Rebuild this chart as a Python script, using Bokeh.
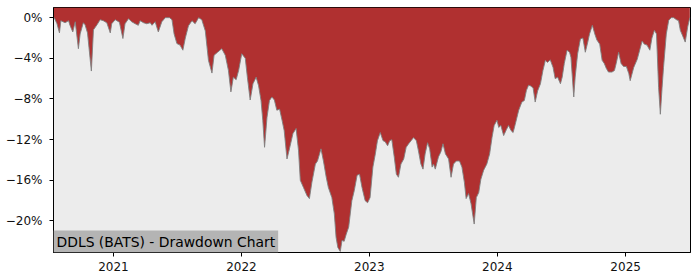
import pandas as pd
from bokeh.plotting import figure
from bokeh.models import (ColumnDataSource, FixedTicker, CustomJSTickFormatter,
                          Label, Range1d)
from bokeh.embed import file_html
from bokeh.resources import INLINE

# ---------------- data (drawdown in percent) ----------------
dates_2020 = ["2020-07-14", "2020-07-16", "2020-07-24", "2020-07-31", "2020-08-04", "2020-08-16",
              "2020-08-26", "2020-08-30", "2020-09-07", "2020-09-14", "2020-09-23", "2020-09-28",
              "2020-10-07", "2020-10-12", "2020-10-19", "2020-10-30", "2020-11-05", "2020-11-15",
              "2020-11-24", "2020-12-03", "2020-12-13", "2020-12-23", "2020-12-27"]
dd_2020 = [0, 0, -0.6, -1.5, -0.3, -0.5,
           -0.3, -0.75, -1.4, -0.4, -3.05, -1.6,
           -0.5, -0.7, -1.5, -5.25, -1.2, -0.7,
           -0.2, -0.3, -0.5, -1.5, -0.6]

dates_2021 = ["2021-01-06", "2021-01-18", "2021-01-28", "2021-02-03", "2021-02-13", "2021-02-22",
              "2021-03-04", "2021-03-13", "2021-03-18", "2021-03-28", "2021-04-06", "2021-04-16",
              "2021-04-21", "2021-04-30", "2021-05-09", "2021-05-19", "2021-05-29", "2021-06-10",
              "2021-06-17", "2021-06-23", "2021-07-01", "2021-07-10", "2021-07-18", "2021-07-25",
              "2021-08-03", "2021-08-13", "2021-08-22", "2021-09-01", "2021-09-10", "2021-09-20",
              "2021-09-29", "2021-10-09", "2021-10-15", "2021-10-25", "2021-11-06", "2021-11-16",
              "2021-11-25", "2021-12-02", "2021-12-09", "2021-12-17", "2021-12-24"]
dd_2021 = [-0.2, -0.45, -2.05, -0.6, -0.1, -0.4,
           -0.6, -0.75, -0.3, -0.5, -0.6, -0.5,
           -0.75, -0.4, -1.4, -0.4, 0, 0,
           -0.2, -1.6, -2.55, -2.7, -3.2, -2.0,
           -0.8, -0.3, -0.6, 0, -0.2, -1.3,
           -4.2, -5.45, -3.7, -3.4, -3.05, -3.7,
           -5.2, -7.3, -5.85, -6.1, -5.2]

dates_2022 = ["2022-01-02", "2022-01-12", "2022-01-18", "2022-01-26", "2022-02-03", "2022-02-12",
              "2022-02-19", "2022-02-26", "2022-03-03", "2022-03-08", "2022-03-15", "2022-03-22",
              "2022-03-29", "2022-04-05", "2022-04-12", "2022-04-20", "2022-04-27", "2022-05-03",
              "2022-05-11", "2022-05-18", "2022-05-28", "2022-06-06", "2022-06-13", "2022-06-18",
              "2022-06-27", "2022-07-07", "2022-07-14", "2022-07-21", "2022-07-31", "2022-08-06",
              "2022-08-16", "2022-08-23", "2022-08-31", "2022-09-06", "2022-09-16", "2022-09-23",
              "2022-09-28", "2022-10-03", "2022-10-10", "2022-10-15", "2022-10-21", "2022-10-27",
              "2022-11-03", "2022-11-12", "2022-11-19", "2022-11-27", "2022-12-04", "2022-12-11",
              "2022-12-20", "2022-12-27"]
dd_2022 = [-3.55, -4.0, -5.85, -8.1, -6.5, -5.85,
           -6.7, -8.15, -10.1, -12.75, -9.8, -8.15,
           -7.8, -8.1, -9.1, -9.0, -10.1, -11.1,
           -13.9, -12.9, -11.4, -10.9, -13.1, -16.0,
           -16.7, -17.5, -17.8, -16.2, -14.4, -14.1,
           -12.9, -14.1, -15.7, -16.7, -17.7, -19.3,
           -21.6, -22.6, -23.0, -21.9, -22.0, -21.3,
           -20.6, -18.0, -17.0, -15.5, -15.4, -16.7,
           -18.0, -18.2]

dates_2023 = ["2023-01-03", "2023-01-11", "2023-01-18", "2023-01-24", "2023-02-01", "2023-02-09",
              "2023-02-15", "2023-02-22", "2023-02-28", "2023-03-06", "2023-03-13", "2023-03-19",
              "2023-03-25", "2023-04-01", "2023-04-09", "2023-04-16", "2023-04-23", "2023-04-30",
              "2023-05-07", "2023-05-15", "2023-05-21", "2023-05-28", "2023-06-03", "2023-06-09",
              "2023-06-16", "2023-06-22", "2023-06-29", "2023-07-03", "2023-07-08", "2023-07-17",
              "2023-07-24", "2023-07-30", "2023-08-06", "2023-08-15", "2023-08-22", "2023-08-29",
              "2023-09-06", "2023-09-15", "2023-09-22", "2023-09-29", "2023-10-04", "2023-10-11",
              "2023-10-18", "2023-10-27", "2023-11-02", "2023-11-09", "2023-11-15", "2023-11-23",
              "2023-12-02", "2023-12-10", "2023-12-17", "2023-12-23", "2023-12-31"]
dd_2023 = [-17.7, -14.7, -13.4, -12.1, -11.3, -12.1,
           -12.2, -12.6, -12.1, -12.0, -13.7, -15.4,
           -15.7, -14.4, -13.9, -12.75, -12.4, -12.1,
           -11.8, -12.1, -13.1, -14.4, -14.9, -13.4,
           -12.3, -12.9, -14.7, -14.4, -14.9, -13.7,
           -13.2, -12.4, -13.4, -13.9, -15.7, -14.4,
           -14.1, -14.1, -14.7, -16.2, -17.8, -17.3,
           -18.3, -20.3, -17.7, -17.2, -15.9, -15.0,
           -14.4, -13.4, -11.75, -10.6, -10.1]

dates_2024 = ["2024-01-05", "2024-01-11", "2024-01-19", "2024-01-27", "2024-02-02", "2024-02-09",
              "2024-02-15", "2024-02-21", "2024-03-02", "2024-03-11", "2024-03-18", "2024-03-24",
              "2024-03-30", "2024-04-04", "2024-04-12", "2024-04-18", "2024-04-25", "2024-05-03",
              "2024-05-10", "2024-05-17", "2024-05-23", "2024-05-31", "2024-06-08", "2024-06-14",
              "2024-06-21", "2024-06-29", "2024-07-04", "2024-07-10", "2024-07-18", "2024-07-25",
              "2024-07-29", "2024-08-06", "2024-08-10", "2024-08-17", "2024-08-25", "2024-09-01",
              "2024-09-08", "2024-09-15", "2024-09-20", "2024-09-28", "2024-10-05", "2024-10-11",
              "2024-10-19", "2024-10-26", "2024-11-01", "2024-11-07", "2024-11-13", "2024-11-23",
              "2024-11-30", "2024-12-05", "2024-12-12", "2024-12-19", "2024-12-26"]
dd_2024 = [-10.8, -10.6, -11.6, -11.0, -10.6, -11.1,
           -11.3, -10.5, -9.1, -8.3, -8.15, -7.15,
           -6.65, -6.7, -6.9, -8.3, -7.2, -6.5,
           -5.2, -4.2, -4.4, -4.15, -4.9, -6.0,
           -5.85, -6.5, -5.85, -4.5, -3.2, -3.4,
           -3.9, -7.8, -5.85, -3.55, -2.1, -2.0,
           -3.4, -2.4, -1.6, -0.75, -1.6, -2.2,
           -2.6, -4.2, -4.5, -5.0, -5.35, -5.35,
           -5.2, -4.5, -3.4, -4.5, -4.8]

dates_2025 = ["2025-01-03", "2025-01-10", "2025-01-14", "2025-01-24", "2025-02-03", "2025-02-10",
              "2025-02-17", "2025-02-23", "2025-03-03", "2025-03-11", "2025-03-17", "2025-03-24",
              "2025-03-30", "2025-04-05", "2025-04-10", "2025-04-15", "2025-04-19", "2025-04-27",
              "2025-05-04", "2025-05-11", "2025-05-18", "2025-05-26", "2025-06-01", "2025-06-06",
              "2025-06-14", "2025-06-20", "2025-06-27", "2025-07-03"]
dd_2025 = [-4.8, -5.5, -6.2, -4.9, -4.1, -3.2,
           -2.3, -2.6, -2.7, -3.2, -2.0, -1.25,
           -1.6, -6.85, -9.5, -6.85, -4.9, -1.6,
           -0.25, 0, 0, -0.2, -0.3, -1.25,
           -1.9, -2.4, -0.9, 0]

year_ticks = ["2021-01-01", "2022-01-01", "2023-01-01", "2024-01-01", "2025-01-01"]
pct_ticks = [0, -4, -8, -12, -16, -20]
title_text = "DDLS (BATS) - Drawdown Chart"

# ---------------- build ----------------
dates = pd.to_datetime(dates_2020 + dates_2021 + dates_2022 + dates_2023 + dates_2024 + dates_2025)
dd = dd_2020 + dd_2021 + dd_2022 + dd_2023 + dd_2024 + dd_2025
src = ColumnDataSource(dict(x=dates, dd=dd))

def ms(s):
    return pd.Timestamp(s).value / 1e6

x_start, x_end = ms("2020-07-14"), ms("2025-07-05")
y_lo, y_hi = -23.1, 1.0

p = figure(width=700, height=280, x_axis_type="datetime",
           x_range=Range1d(x_start, x_end), y_range=Range1d(y_lo, y_hi),
           output_backend="svg", toolbar_location=None)
p.min_border_left = 53
p.min_border_right = 10
p.min_border_top = 7
p.min_border_bottom = 28
p.background_fill_color = "#ececec"
p.border_fill_color = "white"
p.outline_line_color = "black"
p.outline_line_width = 1
p.xgrid.visible = False
p.ygrid.visible = False

p.varea(x="x", y1="dd", y2=y_hi, source=src, fill_color="#b03030", fill_alpha=1.0)
p.line(x="x", y="dd", source=src, line_color="#808080", line_width=1, line_alpha=0.9)

p.xaxis.ticker = FixedTicker(ticks=[ms(t) for t in year_ticks])
p.xaxis.formatter = CustomJSTickFormatter(code="return String(new Date(tick).getUTCFullYear());")
p.yaxis.ticker = FixedTicker(ticks=pct_ticks)
p.yaxis.formatter = CustomJSTickFormatter(
    code="return (tick < 0 ? '\u2212' : '') + Math.abs(tick).toFixed(0) + '%';")

for ax in (p.xaxis[0], p.yaxis[0]):
    ax.axis_line_color = "black"
    ax.major_tick_line_color = "black"
    ax.minor_tick_line_color = None
    ax.major_tick_in = 0
    ax.major_tick_out = 4
    ax.major_label_text_font = "DejaVu Sans"
    ax.major_label_text_font_size = "12px"
    ax.major_label_text_color = "#111111"
p.xaxis.major_label_standoff = 5
p.yaxis.major_label_standoff = 7

lab = Label(x=x_start, y=y_lo, text=title_text, x_units="data", y_units="data",
            text_font="DejaVu Sans", text_font_size="13.9px", text_color="black",
            text_align="left", text_baseline="bottom", text_line_height=1.0,
            background_fill_color="#b4b4b4", background_fill_alpha=1.0, padding=3)
p.add_layout(lab)

open("out.html", "w").write(file_html(p, INLINE))
